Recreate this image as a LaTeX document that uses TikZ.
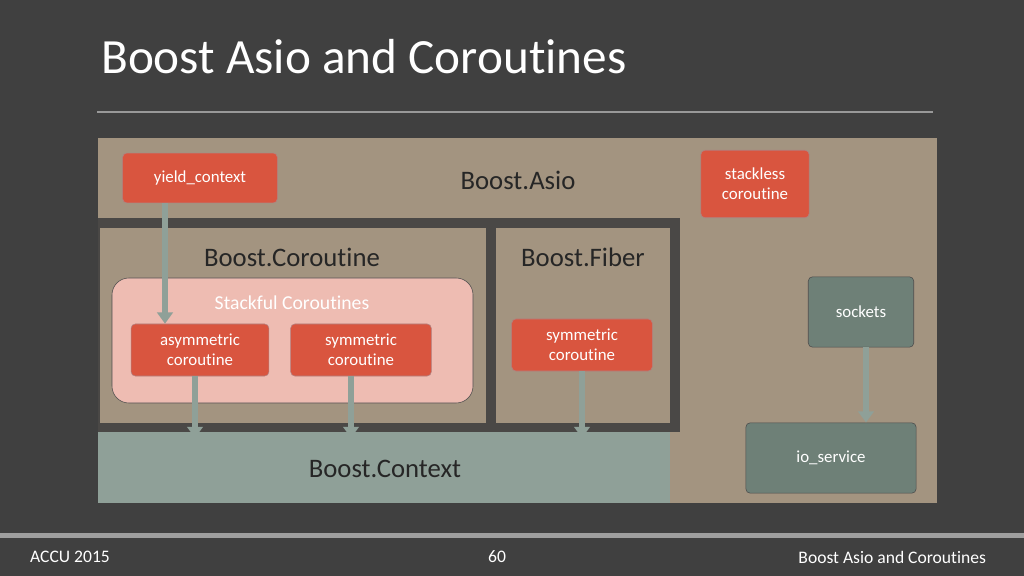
\documentclass[tikz,border=0pt]{standalone}
\usepackage{fontspec}
\setmainfont[Ligatures=NoCommon]{Carlito}
\usetikzlibrary{arrows.meta}
\begin{document}
\begin{tikzpicture}[x=0.025cm,y=-0.025cm,
  redbox/.style={draw=red!40!black!50,fill=redc,rounded corners=3pt,text=white,font=\fontsize{12}{14}\selectfont,align=center,inner sep=0pt},
  greenbox/.style={draw=gray!60!black,fill=greenc,rounded corners=3pt,text=white,font=\fontsize{12}{14}\selectfont,align=center,inner sep=0pt},
  arr/.style={draw=arrc,line width=4pt,-{Triangle[length=8pt,width=11pt]}},
  big/.style={font=\fontsize{19}{22}\selectfont,text=black!85}]
\definecolor{bgc}{HTML}{404040}
\definecolor{tan}{HTML}{A39480}
\definecolor{redc}{HTML}{D9553F}
\definecolor{greenc}{HTML}{6E8077}
\definecolor{ctx}{HTML}{8FA098}
\definecolor{pink}{HTML}{EEBCB2}
\definecolor{arrc}{HTML}{8FA098}
\fill[bgc] (0,0) rectangle (1024,576);
\useasboundingbox (0,0) rectangle (1024,576);
\node[anchor=west,text=white,font=\fontsize{35}{40}\selectfont,inner sep=0pt] (title) at (101,57) {Boost Asio and Coroutines};
\draw[gray!80,line width=1.5pt] (97,112) -- (933,112);
\fill[tan] (98,138) rectangle (937,503);
\fill[bgc!90!tan] (98,218) rectangle (680,432);
\fill[tan] (100,228) rectangle (486,423);
\fill[tan] (496,228) rectangle (670,423);
\fill[ctx] (98,432) rectangle (670,503);
\node[big] (asio) at (518,180) {Boost.Asio};
\node[big] (coro) at (292,257) {Boost.Coroutine};
\node[big] (fiber) at (583,257) {Boost.Fiber};
\node[big] (ctxl) at (385,469) {Boost.Context};
\fill[pink,draw=gray!60!black,rounded corners=12pt] (112,278) rectangle (473,403);
\node[text=white,font=\fontsize{14}{16}\selectfont] (sfl) at (292,303) {Stackful Coroutines};
\node[redbox,minimum width=110pt,minimum height=35.5pt] (yc) at (200,178) {yield\_context};
\node[redbox,minimum width=98pt,minimum height=37pt] (asy) at (200,350) {asymmetric\\coroutine};
\node[redbox,minimum width=100pt,minimum height=37pt] (sym) at (361,350) {symmetric\\coroutine};
\node[redbox,minimum width=100pt,minimum height=37pt] (fsym) at (582,345) {symmetric\\coroutine};
\node[redbox,minimum width=77pt,minimum height=48pt] (sl) at (755,184) {stackless\\coroutine};
\node[greenbox,minimum width=75pt,minimum height=50pt] (sock) at (861,312) {sockets};
\node[greenbox,minimum width=121pt,minimum height=50pt] (io) at (831,458) {io\_service};
\draw[arr] (yc.south -| 165,0) -- (asy.north -| 165,0);
\draw[arr] (asy.south -| 195,0) -- (195,438);
\draw[arr] (sym.south -| 351,0) -- (351,438);
\draw[arr] (fsym.south) -- (582,438);
\draw[arr] (sock.south -| 866,0) -- (io.north -| 866,0);
\fill[gray!75] (0,533) rectangle (1024,538);
\node[text=white,font=\fontsize{12.5}{14}\selectfont] (f1) at (70,557) {ACCU 2015};
\node[text=white,font=\fontsize{12.5}{14}\selectfont] (f2) at (497,557) {60};
\node[text=white,font=\fontsize{12.5}{14}\selectfont,anchor=east] (f3) at (991,557) {Boost Asio and Coroutines};
\end{tikzpicture}
\end{document}
